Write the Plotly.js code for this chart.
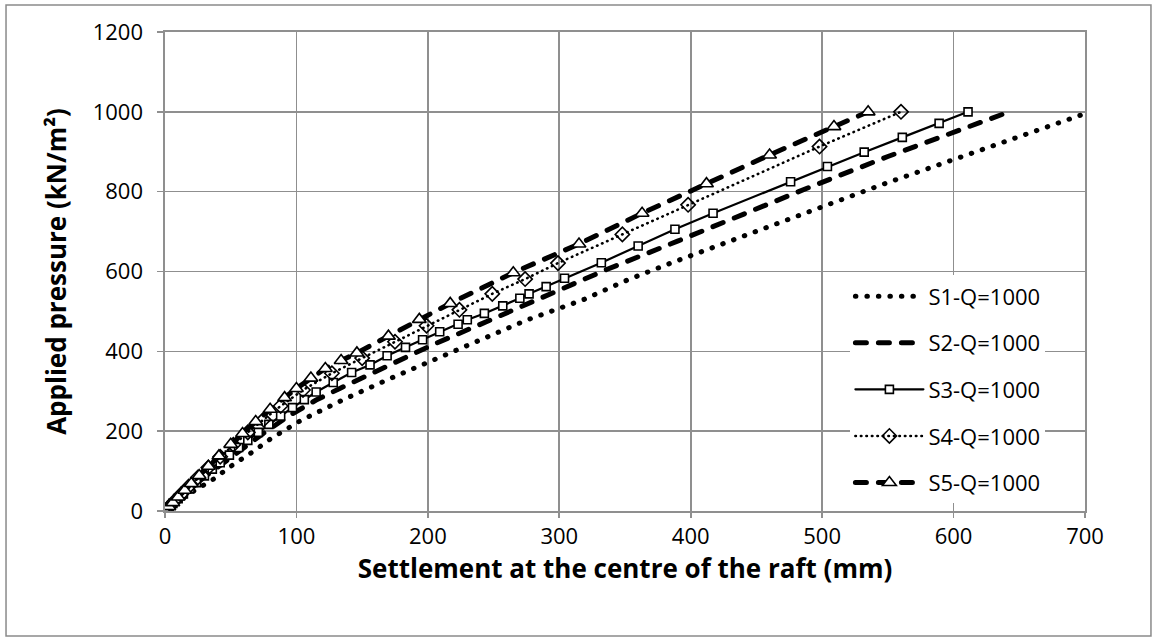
<!DOCTYPE html>
<html>
<head>
<meta charset="utf-8">
<script src="https://cdn.plot.ly/plotly-3.0.1.min.js"></script>
<style>
html, body { margin: 0; padding: 0; background: #fff; }
#chart { width: 1158px; height: 643px; }
.scatterlayer .js-line, .legend .js-line { stroke-linecap: round; }
</style>
</head>
<body>
<div id="chart"></div>
<script>
// ---- data ----
const seriesNames = ["S1-Q=1000", "S2-Q=1000", "S3-Q=1000", "S4-Q=1000", "S5-Q=1000"];

const s1X = [0, 10, 20, 37, 50, 67, 80, 104, 120, 137, 170, 201, 245, 275, 318, 352, 384, 435, 486, 545, 604, 646, 697];
const s1Y = [0, 24, 46, 80, 112, 149, 180, 228, 255, 281, 330, 374, 437, 478, 529, 579, 620, 683, 743, 817, 885, 934, 992];

const s2X = [0, 10, 20, 30, 40, 50, 60, 75, 95, 115, 133, 160, 202, 250, 300, 336, 390, 438, 488, 550, 595, 639];
const s2Y = [0, 30, 58, 85, 110, 135, 160, 195, 240, 278, 307, 350, 414, 482, 553, 605, 676, 741, 808, 888, 942, 996];

const s3X = [0, 3, 6, 10, 14, 19, 24, 30, 36, 42, 49, 56, 63, 71, 79, 88, 97, 106, 115, 128, 142, 156, 169, 183, 196, 209, 223, 230, 243, 257, 270, 277, 290, 304, 332, 360, 388, 417, 476, 504, 532, 561, 589, 611];
const s3Y = [0, 10, 19, 31, 43, 57, 71, 88, 105, 121, 140, 159, 177, 197, 217, 238, 259, 279, 298, 322, 347, 366, 389, 410, 429, 449, 468, 479, 495, 514, 533, 544, 562, 583, 622, 664, 706, 746, 825, 863, 899, 936, 971, 1000];

const s4X = [0, 3, 7, 12, 18, 25, 33, 42, 52, 63, 75, 88, 105, 127, 150, 175, 199, 224, 249, 274, 299, 348, 398, 498, 560];
const s4Y = [0, 10, 24, 41, 61, 84, 109, 136, 166, 197, 229, 263, 303, 345, 383, 424, 464, 504, 544, 581, 621, 693, 767, 913, 1000];

const s5X = [0, 3, 6, 10, 15, 20, 26, 33, 41, 50, 59, 69, 80, 91, 100, 111, 122, 134, 146, 170, 193.5, 217, 265, 315, 363, 412, 460, 509, 535];
const s5Y = [0, 11, 21, 35, 52, 69, 89, 112, 138, 167, 194, 224, 255, 284, 307, 333, 357, 377, 396, 438, 480, 520, 597, 669, 746, 820, 892, 963, 1000];

const xTickVals = [0, 100, 200, 300, 400, 500, 600, 700];
const yTickVals = [0, 200, 400, 600, 800, 1000, 1200];

const xTitle = "Settlement at the centre of the raft (mm)";
const yTitle = "Applied pressure (kN/m²)";

// ---- styling ----
const FONT = "Open Sans, Liberation Sans, sans-serif";
const GRID = "#8f8f8f";

const traces = [
  { x: s1X, y: s1Y, name: seriesNames[0], mode: "lines",
    line: { color: "#000", width: 5, dash: "0.5px,11px" } },
  { x: s2X, y: s2Y, name: seriesNames[1], mode: "lines",
    line: { color: "#000", width: 5, dash: "11px,12px" } },
  { x: s3X, y: s3Y, name: seriesNames[2], mode: "lines+markers",
    line: { color: "#000", width: 2.2 },
    marker: { symbol: "square", size: 8, color: "#fff", line: { color: "#000", width: 1.6 } } },
  { x: s4X, y: s4Y, name: seriesNames[3], mode: "lines+markers",
    line: { color: "#000", width: 2.6, dash: "0.5px,5px" },
    marker: { symbol: "diamond-open", size: 11, color: "#000", line: { color: "#000", width: 1.6 } } },
  { x: s5X, y: s5Y, name: seriesNames[4], mode: "lines+markers",
    line: { color: "#000", width: 5, dash: "11px,12px" },
    marker: { symbol: "triangle-up", size: 12, color: "#fff", line: { color: "#000", width: 1.6 } } }
];
traces.forEach((t, i) => { t.type = "scatter"; t.legendgroup = "g" + i; t.hoverinfo = "skip"; });

const layout = {
  width: 1158, height: 643,
  paper_bgcolor: "#fff", plot_bgcolor: "#fff",
  margin: { l: 165, r: 73, t: 32, b: 132 },
  font: { family: FONT, size: 22, color: "#000" },
  showlegend: true,
  legend: {
    x: 0.745, xanchor: "left", y: 0.016, yanchor: "bottom",
    bgcolor: "#fff", borderwidth: 0,
    traceorder: "grouped", tracegroupgap: 15,
    itemwidth: 68,
    font: { family: FONT, size: 22, color: "#000" }
  },
  xaxis: {
    range: [0, 700], tickvals: xTickVals, ticktext: xTickVals.map(String),
    showgrid: true, gridcolor: GRID, gridwidth: 1.6,
    showline: true, linecolor: GRID, linewidth: 1.6, mirror: true,
    ticks: "outside", ticklen: 5, tickcolor: GRID, tickwidth: 1.6,
    zeroline: false,
    tickfont: { family: FONT, size: 22, color: "#000" },
    title: { text: xTitle, font: { family: FONT, size: 26, color: "#000", weight: "bold" }, standoff: 0 }
  },
  yaxis: {
    range: [0, 1200], tickvals: yTickVals, ticktext: yTickVals.map(String),
    showgrid: true, gridcolor: GRID, gridwidth: 1.6,
    showline: true, linecolor: GRID, linewidth: 1.6, mirror: true,
    ticks: "outside", ticklen: 6, tickcolor: GRID, tickwidth: 1.6,
    ticklabelstandoff: 10,
    zeroline: false,
    tickfont: { family: FONT, size: 22, color: "#000" },
    title: { text: yTitle, font: { family: FONT, size: 26, color: "#000", weight: "bold" }, standoff: 18 }
  },
  shapes: [
    { type: "rect", xref: "paper", yref: "paper",
      x0: -0.1728, x1: 1.0717, y0: -0.2610, y1: 1.0564,
      line: { color: "#8a8a8a", width: 1.5 }, fillcolor: "rgba(0,0,0,0)", layer: "below" }
  ]
};

Plotly.newPlot("chart", traces, layout, { staticPlot: true, displayModeBar: false });
</script>
</body>
</html>
